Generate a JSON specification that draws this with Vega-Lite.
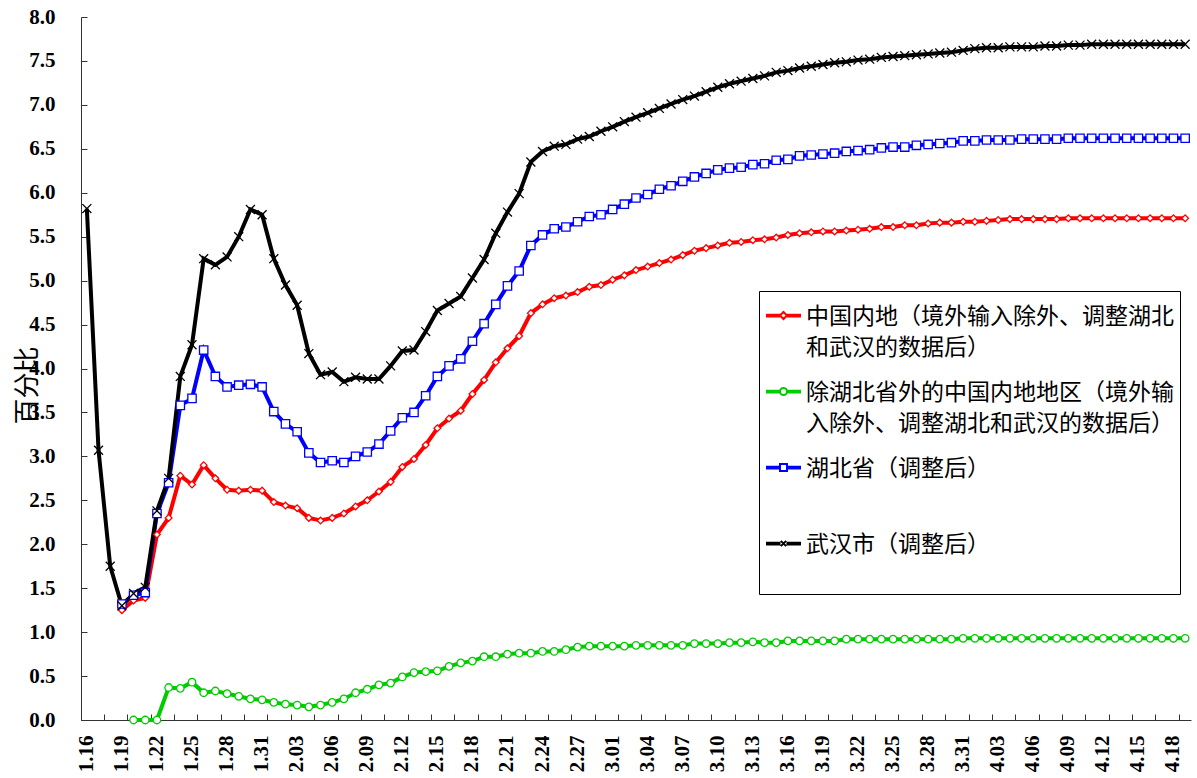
{
"$schema":"https://vega.github.io/schema/vega-lite/v6.json",
"width":1110,"height":703,"autosize":"none",
"padding":{"left":81,"top":17,"right":6,"bottom":58},
"background":"white",
"config":{"view":{"stroke":null},"axis":{"grid":false}},
"data":{"values":[
{"d":"1.19","s":"中国内地","v":1.25},{"d":"1.20","s":"中国内地","v":1.36},{"d":"1.21","s":"中国内地","v":1.39},{"d":"1.22","s":"中国内地","v":2.11},{"d":"1.23","s":"中国内地","v":2.30},{"d":"1.24","s":"中国内地","v":2.78},{"d":"1.25","s":"中国内地","v":2.68},{"d":"1.26","s":"中国内地","v":2.90},{"d":"1.27","s":"中国内地","v":2.75},{"d":"1.28","s":"中国内地","v":2.62},{"d":"1.29","s":"中国内地","v":2.61},{"d":"1.30","s":"中国内地","v":2.62},{"d":"1.31","s":"中国内地","v":2.61},
{"d":"2.01","s":"中国内地","v":2.48},{"d":"2.02","s":"中国内地","v":2.44},{"d":"2.03","s":"中国内地","v":2.41},{"d":"2.04","s":"中国内地","v":2.30},{"d":"2.05","s":"中国内地","v":2.27},{"d":"2.06","s":"中国内地","v":2.30},{"d":"2.07","s":"中国内地","v":2.35},{"d":"2.08","s":"中国内地","v":2.43},{"d":"2.09","s":"中国内地","v":2.50},{"d":"2.10","s":"中国内地","v":2.60},{"d":"2.11","s":"中国内地","v":2.71},{"d":"2.12","s":"中国内地","v":2.88},{"d":"2.13","s":"中国内地","v":2.97},{"d":"2.14","s":"中国内地","v":3.13},{"d":"2.15","s":"中国内地","v":3.32},{"d":"2.16","s":"中国内地","v":3.43},{"d":"2.17","s":"中国内地","v":3.52},{"d":"2.18","s":"中国内地","v":3.71},{"d":"2.19","s":"中国内地","v":3.87},{"d":"2.20","s":"中国内地","v":4.07},{"d":"2.21","s":"中国内地","v":4.23},{"d":"2.22","s":"中国内地","v":4.37},{"d":"2.23","s":"中国内地","v":4.63},{"d":"2.24","s":"中国内地","v":4.73},{"d":"2.25","s":"中国内地","v":4.80},{"d":"2.26","s":"中国内地","v":4.83},{"d":"2.27","s":"中国内地","v":4.87},{"d":"2.28","s":"中国内地","v":4.93},{"d":"2.29","s":"中国内地","v":4.95},
{"d":"3.01","s":"中国内地","v":5.01},{"d":"3.02","s":"中国内地","v":5.06},{"d":"3.03","s":"中国内地","v":5.12},{"d":"3.04","s":"中国内地","v":5.16},{"d":"3.05","s":"中国内地","v":5.20},{"d":"3.06","s":"中国内地","v":5.24},{"d":"3.07","s":"中国内地","v":5.29},{"d":"3.08","s":"中国内地","v":5.34},{"d":"3.09","s":"中国内地","v":5.37},{"d":"3.10","s":"中国内地","v":5.40},{"d":"3.11","s":"中国内地","v":5.43},{"d":"3.12","s":"中国内地","v":5.44},{"d":"3.13","s":"中国内地","v":5.46},{"d":"3.14","s":"中国内地","v":5.47},{"d":"3.15","s":"中国内地","v":5.49},{"d":"3.16","s":"中国内地","v":5.52},{"d":"3.17","s":"中国内地","v":5.54},{"d":"3.18","s":"中国内地","v":5.55},{"d":"3.19","s":"中国内地","v":5.56},{"d":"3.20","s":"中国内地","v":5.56},{"d":"3.21","s":"中国内地","v":5.57},{"d":"3.22","s":"中国内地","v":5.58},{"d":"3.23","s":"中国内地","v":5.59},{"d":"3.24","s":"中国内地","v":5.61},{"d":"3.25","s":"中国内地","v":5.61},{"d":"3.26","s":"中国内地","v":5.63},{"d":"3.27","s":"中国内地","v":5.63},{"d":"3.28","s":"中国内地","v":5.65},{"d":"3.29","s":"中国内地","v":5.66},{"d":"3.30","s":"中国内地","v":5.66},{"d":"3.31","s":"中国内地","v":5.67},
{"d":"4.01","s":"中国内地","v":5.67},{"d":"4.02","s":"中国内地","v":5.68},{"d":"4.03","s":"中国内地","v":5.69},{"d":"4.04","s":"中国内地","v":5.70},{"d":"4.05","s":"中国内地","v":5.70},{"d":"4.06","s":"中国内地","v":5.70},{"d":"4.07","s":"中国内地","v":5.70},{"d":"4.08","s":"中国内地","v":5.70},{"d":"4.09","s":"中国内地","v":5.71},{"d":"4.10","s":"中国内地","v":5.71},{"d":"4.11","s":"中国内地","v":5.71},{"d":"4.12","s":"中国内地","v":5.71},{"d":"4.13","s":"中国内地","v":5.71},{"d":"4.14","s":"中国内地","v":5.71},{"d":"4.15","s":"中国内地","v":5.71},{"d":"4.16","s":"中国内地","v":5.71},{"d":"4.17","s":"中国内地","v":5.71},{"d":"4.18","s":"中国内地","v":5.71},{"d":"4.19","s":"中国内地","v":5.71},
{"d":"1.20","s":"除湖北省外","v":0},{"d":"1.21","s":"除湖北省外","v":0},{"d":"1.22","s":"除湖北省外","v":0},{"d":"1.23","s":"除湖北省外","v":0.37},{"d":"1.24","s":"除湖北省外","v":0.36},{"d":"1.25","s":"除湖北省外","v":0.43},{"d":"1.26","s":"除湖北省外","v":0.31},{"d":"1.27","s":"除湖北省外","v":0.33},{"d":"1.28","s":"除湖北省外","v":0.30},{"d":"1.29","s":"除湖北省外","v":0.27},{"d":"1.30","s":"除湖北省外","v":0.24},{"d":"1.31","s":"除湖北省外","v":0.23},
{"d":"2.01","s":"除湖北省外","v":0.20},{"d":"2.02","s":"除湖北省外","v":0.18},{"d":"2.03","s":"除湖北省外","v":0.17},{"d":"2.04","s":"除湖北省外","v":0.15},{"d":"2.05","s":"除湖北省外","v":0.17},{"d":"2.06","s":"除湖北省外","v":0.20},{"d":"2.07","s":"除湖北省外","v":0.24},{"d":"2.08","s":"除湖北省外","v":0.31},{"d":"2.09","s":"除湖北省外","v":0.35},{"d":"2.10","s":"除湖北省外","v":0.40},{"d":"2.11","s":"除湖北省外","v":0.42},{"d":"2.12","s":"除湖北省外","v":0.49},{"d":"2.13","s":"除湖北省外","v":0.54},{"d":"2.14","s":"除湖北省外","v":0.55},{"d":"2.15","s":"除湖北省外","v":0.56},{"d":"2.16","s":"除湖北省外","v":0.61},{"d":"2.17","s":"除湖北省外","v":0.65},{"d":"2.18","s":"除湖北省外","v":0.67},{"d":"2.19","s":"除湖北省外","v":0.72},{"d":"2.20","s":"除湖北省外","v":0.72},{"d":"2.21","s":"除湖北省外","v":0.75},{"d":"2.22","s":"除湖北省外","v":0.76},{"d":"2.23","s":"除湖北省外","v":0.76},{"d":"2.24","s":"除湖北省外","v":0.78},{"d":"2.25","s":"除湖北省外","v":0.78},{"d":"2.26","s":"除湖北省外","v":0.80},{"d":"2.27","s":"除湖北省外","v":0.83},{"d":"2.28","s":"除湖北省外","v":0.84},{"d":"2.29","s":"除湖北省外","v":0.84},
{"d":"3.01","s":"除湖北省外","v":0.84},{"d":"3.02","s":"除湖北省外","v":0.84},{"d":"3.03","s":"除湖北省外","v":0.85},{"d":"3.04","s":"除湖北省外","v":0.85},{"d":"3.05","s":"除湖北省外","v":0.85},{"d":"3.06","s":"除湖北省外","v":0.85},{"d":"3.07","s":"除湖北省外","v":0.85},{"d":"3.08","s":"除湖北省外","v":0.87},{"d":"3.09","s":"除湖北省外","v":0.87},{"d":"3.10","s":"除湖北省外","v":0.87},{"d":"3.11","s":"除湖北省外","v":0.88},{"d":"3.12","s":"除湖北省外","v":0.88},{"d":"3.13","s":"除湖北省外","v":0.89},{"d":"3.14","s":"除湖北省外","v":0.88},{"d":"3.15","s":"除湖北省外","v":0.88},{"d":"3.16","s":"除湖北省外","v":0.90},{"d":"3.17","s":"除湖北省外","v":0.90},{"d":"3.18","s":"除湖北省外","v":0.90},{"d":"3.19","s":"除湖北省外","v":0.90},{"d":"3.20","s":"除湖北省外","v":0.90},{"d":"3.21","s":"除湖北省外","v":0.92},{"d":"3.22","s":"除湖北省外","v":0.92},{"d":"3.23","s":"除湖北省外","v":0.92},{"d":"3.24","s":"除湖北省外","v":0.92},{"d":"3.25","s":"除湖北省外","v":0.92},{"d":"3.26","s":"除湖北省外","v":0.92},{"d":"3.27","s":"除湖北省外","v":0.92},{"d":"3.28","s":"除湖北省外","v":0.92},{"d":"3.29","s":"除湖北省外","v":0.92},{"d":"3.30","s":"除湖北省外","v":0.92},{"d":"3.31","s":"除湖北省外","v":0.93},
{"d":"4.01","s":"除湖北省外","v":0.93},{"d":"4.02","s":"除湖北省外","v":0.93},{"d":"4.03","s":"除湖北省外","v":0.93},{"d":"4.04","s":"除湖北省外","v":0.93},{"d":"4.05","s":"除湖北省外","v":0.93},{"d":"4.06","s":"除湖北省外","v":0.93},{"d":"4.07","s":"除湖北省外","v":0.93},{"d":"4.08","s":"除湖北省外","v":0.93},{"d":"4.09","s":"除湖北省外","v":0.93},{"d":"4.10","s":"除湖北省外","v":0.93},{"d":"4.11","s":"除湖北省外","v":0.93},{"d":"4.12","s":"除湖北省外","v":0.93},{"d":"4.13","s":"除湖北省外","v":0.93},{"d":"4.14","s":"除湖北省外","v":0.93},{"d":"4.15","s":"除湖北省外","v":0.93},{"d":"4.16","s":"除湖北省外","v":0.93},{"d":"4.17","s":"除湖北省外","v":0.93},{"d":"4.18","s":"除湖北省外","v":0.93},{"d":"4.19","s":"除湖北省外","v":0.93},
{"d":"1.19","s":"湖北省","v":1.32},{"d":"1.20","s":"湖北省","v":1.42},{"d":"1.21","s":"湖北省","v":1.45},{"d":"1.22","s":"湖北省","v":2.35},{"d":"1.23","s":"湖北省","v":2.70},{"d":"1.24","s":"湖北省","v":3.58},{"d":"1.25","s":"湖北省","v":3.66},{"d":"1.26","s":"湖北省","v":4.21},{"d":"1.27","s":"湖北省","v":3.91},{"d":"1.28","s":"湖北省","v":3.79},{"d":"1.29","s":"湖北省","v":3.81},{"d":"1.30","s":"湖北省","v":3.82},{"d":"1.31","s":"湖北省","v":3.79},
{"d":"2.01","s":"湖北省","v":3.51},{"d":"2.02","s":"湖北省","v":3.37},{"d":"2.03","s":"湖北省","v":3.28},{"d":"2.04","s":"湖北省","v":3.04},{"d":"2.05","s":"湖北省","v":2.93},{"d":"2.06","s":"湖北省","v":2.95},{"d":"2.07","s":"湖北省","v":2.93},{"d":"2.08","s":"湖北省","v":3.00},{"d":"2.09","s":"湖北省","v":3.05},{"d":"2.10","s":"湖北省","v":3.14},{"d":"2.11","s":"湖北省","v":3.29},{"d":"2.12","s":"湖北省","v":3.44},{"d":"2.13","s":"湖北省","v":3.50},{"d":"2.14","s":"湖北省","v":3.69},{"d":"2.15","s":"湖北省","v":3.91},{"d":"2.16","s":"湖北省","v":4.03},{"d":"2.17","s":"湖北省","v":4.11},{"d":"2.18","s":"湖北省","v":4.31},{"d":"2.19","s":"湖北省","v":4.51},{"d":"2.20","s":"湖北省","v":4.73},{"d":"2.21","s":"湖北省","v":4.94},{"d":"2.22","s":"湖北省","v":5.11},{"d":"2.23","s":"湖北省","v":5.40},{"d":"2.24","s":"湖北省","v":5.52},{"d":"2.25","s":"湖北省","v":5.59},{"d":"2.26","s":"湖北省","v":5.61},{"d":"2.27","s":"湖北省","v":5.67},{"d":"2.28","s":"湖北省","v":5.73},{"d":"2.29","s":"湖北省","v":5.75},
{"d":"3.01","s":"湖北省","v":5.81},{"d":"3.02","s":"湖北省","v":5.87},{"d":"3.03","s":"湖北省","v":5.94},{"d":"3.04","s":"湖北省","v":5.98},{"d":"3.05","s":"湖北省","v":6.04},{"d":"3.06","s":"湖北省","v":6.08},{"d":"3.07","s":"湖北省","v":6.13},{"d":"3.08","s":"湖北省","v":6.18},{"d":"3.09","s":"湖北省","v":6.22},{"d":"3.10","s":"湖北省","v":6.26},{"d":"3.11","s":"湖北省","v":6.28},{"d":"3.12","s":"湖北省","v":6.29},{"d":"3.13","s":"湖北省","v":6.32},{"d":"3.14","s":"湖北省","v":6.33},{"d":"3.15","s":"湖北省","v":6.37},{"d":"3.16","s":"湖北省","v":6.38},{"d":"3.17","s":"湖北省","v":6.42},{"d":"3.18","s":"湖北省","v":6.43},{"d":"3.19","s":"湖北省","v":6.44},{"d":"3.20","s":"湖北省","v":6.45},{"d":"3.21","s":"湖北省","v":6.47},{"d":"3.22","s":"湖北省","v":6.48},{"d":"3.23","s":"湖北省","v":6.49},{"d":"3.24","s":"湖北省","v":6.51},{"d":"3.25","s":"湖北省","v":6.52},{"d":"3.26","s":"湖北省","v":6.52},{"d":"3.27","s":"湖北省","v":6.54},{"d":"3.28","s":"湖北省","v":6.55},{"d":"3.29","s":"湖北省","v":6.56},{"d":"3.30","s":"湖北省","v":6.57},{"d":"3.31","s":"湖北省","v":6.59},
{"d":"4.01","s":"湖北省","v":6.59},{"d":"4.02","s":"湖北省","v":6.60},{"d":"4.03","s":"湖北省","v":6.60},{"d":"4.04","s":"湖北省","v":6.60},{"d":"4.05","s":"湖北省","v":6.61},{"d":"4.06","s":"湖北省","v":6.61},{"d":"4.07","s":"湖北省","v":6.61},{"d":"4.08","s":"湖北省","v":6.61},{"d":"4.09","s":"湖北省","v":6.62},{"d":"4.10","s":"湖北省","v":6.62},{"d":"4.11","s":"湖北省","v":6.62},{"d":"4.12","s":"湖北省","v":6.62},{"d":"4.13","s":"湖北省","v":6.62},{"d":"4.14","s":"湖北省","v":6.62},{"d":"4.15","s":"湖北省","v":6.62},{"d":"4.16","s":"湖北省","v":6.62},{"d":"4.17","s":"湖北省","v":6.62},{"d":"4.18","s":"湖北省","v":6.62},{"d":"4.19","s":"湖北省","v":6.62},
{"d":"1.16","s":"武汉市","v":5.82},{"d":"1.17","s":"武汉市","v":3.07},{"d":"1.18","s":"武汉市","v":1.75},{"d":"1.19","s":"武汉市","v":1.30},{"d":"1.20","s":"武汉市","v":1.44},{"d":"1.21","s":"武汉市","v":1.51},{"d":"1.22","s":"武汉市","v":2.38},{"d":"1.23","s":"武汉市","v":2.75},{"d":"1.24","s":"武汉市","v":3.91},{"d":"1.25","s":"武汉市","v":4.27},{"d":"1.26","s":"武汉市","v":5.25},{"d":"1.27","s":"武汉市","v":5.18},{"d":"1.28","s":"武汉市","v":5.27},{"d":"1.29","s":"武汉市","v":5.50},{"d":"1.30","s":"武汉市","v":5.81},{"d":"1.31","s":"武汉市","v":5.75},
{"d":"2.01","s":"武汉市","v":5.25},{"d":"2.02","s":"武汉市","v":4.95},{"d":"2.03","s":"武汉市","v":4.72},{"d":"2.04","s":"武汉市","v":4.17},{"d":"2.05","s":"武汉市","v":3.93},{"d":"2.06","s":"武汉市","v":3.96},{"d":"2.07","s":"武汉市","v":3.85},{"d":"2.08","s":"武汉市","v":3.90},{"d":"2.09","s":"武汉市","v":3.88},{"d":"2.10","s":"武汉市","v":3.88},{"d":"2.11","s":"武汉市","v":4.03},{"d":"2.12","s":"武汉市","v":4.20},{"d":"2.13","s":"武汉市","v":4.21},{"d":"2.14","s":"武汉市","v":4.42},{"d":"2.15","s":"武汉市","v":4.66},{"d":"2.16","s":"武汉市","v":4.74},{"d":"2.17","s":"武汉市","v":4.82},{"d":"2.18","s":"武汉市","v":5.03},{"d":"2.19","s":"武汉市","v":5.24},{"d":"2.20","s":"武汉市","v":5.54},{"d":"2.21","s":"武汉市","v":5.78},{"d":"2.22","s":"武汉市","v":5.99},{"d":"2.23","s":"武汉市","v":6.35},{"d":"2.24","s":"武汉市","v":6.47},{"d":"2.25","s":"武汉市","v":6.53},{"d":"2.26","s":"武汉市","v":6.55},{"d":"2.27","s":"武汉市","v":6.61},{"d":"2.28","s":"武汉市","v":6.64},{"d":"2.29","s":"武汉市","v":6.70},
{"d":"3.01","s":"武汉市","v":6.75},{"d":"3.02","s":"武汉市","v":6.81},{"d":"3.03","s":"武汉市","v":6.86},{"d":"3.04","s":"武汉市","v":6.91},{"d":"3.05","s":"武汉市","v":6.96},{"d":"3.06","s":"武汉市","v":7.01},{"d":"3.07","s":"武汉市","v":7.06},{"d":"3.08","s":"武汉市","v":7.10},{"d":"3.09","s":"武汉市","v":7.15},{"d":"3.10","s":"武汉市","v":7.20},{"d":"3.11","s":"武汉市","v":7.24},{"d":"3.12","s":"武汉市","v":7.27},{"d":"3.13","s":"武汉市","v":7.30},{"d":"3.14","s":"武汉市","v":7.33},{"d":"3.15","s":"武汉市","v":7.37},{"d":"3.16","s":"武汉市","v":7.39},{"d":"3.17","s":"武汉市","v":7.42},{"d":"3.18","s":"武汉市","v":7.44},{"d":"3.19","s":"武汉市","v":7.46},{"d":"3.20","s":"武汉市","v":7.48},{"d":"3.21","s":"武汉市","v":7.49},{"d":"3.22","s":"武汉市","v":7.51},{"d":"3.23","s":"武汉市","v":7.52},{"d":"3.24","s":"武汉市","v":7.54},{"d":"3.25","s":"武汉市","v":7.55},{"d":"3.26","s":"武汉市","v":7.56},{"d":"3.27","s":"武汉市","v":7.57},{"d":"3.28","s":"武汉市","v":7.58},{"d":"3.29","s":"武汉市","v":7.59},{"d":"3.30","s":"武汉市","v":7.60},{"d":"3.31","s":"武汉市","v":7.62},
{"d":"4.01","s":"武汉市","v":7.64},{"d":"4.02","s":"武汉市","v":7.65},{"d":"4.03","s":"武汉市","v":7.65},{"d":"4.04","s":"武汉市","v":7.66},{"d":"4.05","s":"武汉市","v":7.66},{"d":"4.06","s":"武汉市","v":7.66},{"d":"4.07","s":"武汉市","v":7.67},{"d":"4.08","s":"武汉市","v":7.67},{"d":"4.09","s":"武汉市","v":7.68},{"d":"4.10","s":"武汉市","v":7.68},{"d":"4.11","s":"武汉市","v":7.69},{"d":"4.12","s":"武汉市","v":7.69},{"d":"4.13","s":"武汉市","v":7.69},{"d":"4.14","s":"武汉市","v":7.69},{"d":"4.15","s":"武汉市","v":7.69},{"d":"4.16","s":"武汉市","v":7.69},{"d":"4.17","s":"武汉市","v":7.69},{"d":"4.18","s":"武汉市","v":7.69},{"d":"4.19","s":"武汉市","v":7.69}
]},
"encoding":{
"y":{"field":"v","type":"quantitative","scale":{"domain":[0,8],"nice":false},
"axis":{"values":[0,0.5,1,1.5,2,2.5,3,3.5,4,4.5,5,5.5,6,6.5,7,7.5,8],"format":".1f","labelFont":"Liberation Serif","labelFontSize":21,"labelFontWeight":"bold","labelColor":"black","tickSize":-6,"tickColor":"#333333","domainColor":"#333333","labelPadding":32,
"title":"百分比","titleFont":"Noto Sans CJK SC","titleFontSize":26,"titleFontWeight":"normal","titleColor":"black","titleX":-54,"titleY":368,"titleAngle":-90,"titleAlign":"center","titleBaseline":"middle"}}
},
"layer":[
{"mark":{"type":"line","strokeWidth":4},
"encoding":{
"x":{"field":"d","type":"ordinal","scale":{"type":"band","paddingInner":0,"paddingOuter":0},
"axis":{"orient":"bottom","values":["1.16","1.18","1.20","1.22","1.24","1.26","1.28","1.30","2.01","2.03","2.05","2.07","2.09","2.11","2.13","2.15","2.17","2.19","2.21","2.23","2.25","2.27","2.29","3.02","3.04","3.06","3.08","3.10","3.12","3.14","3.16","3.18","3.20","3.22","3.24","3.26","3.28","3.30","4.01","4.03","4.05","4.07","4.09","4.11","4.13","4.15","4.17","4.19"],"bandPosition":0,"labels":false,"tickSize":-6,"tickColor":"#333333","domainColor":"#333333","title":null}},
"color":{"field":"s","type":"nominal","scale":{"domain":["中国内地","除湖北省外","湖北省","武汉市"],"range":["#FF0000","#00CC00","#0000FF","#000000"]},
"legend":{"title":null,"orient":"none","legendX":678,"legendY":274,"direction":"vertical","fillColor":"white","strokeColor":"black","padding":6,"cornerRadius":0,
"labelFont":"Noto Sans CJK SC","labelFontSize":23,"labelColor":"black","labelLimit":430,"labelOffset":4,"labelBaseline":"top","symbolSize":1225,"symbolStrokeWidth":2,"rowPadding":13,
"labelExpr":"datum.value === '中国内地' ? ['中国内地（境外输入除外、调整湖北', '和武汉的数据后）'] : datum.value === '除湖北省外' ? ['除湖北省外的中国内地地区（境外输', '入除外、调整湖北和武汉的数据后）'] : datum.value === '湖北省' ? ['湖北省（调整后）', ' '] : ['武汉市（调整后）', ' ']",
"encode":{"symbols":{"update":{"shape":{"signal":"datum.value === '中国内地' ? 'M-1,-0.05H-0.2M-1,0.05H-0.2M0.2,-0.05H1M0.2,0.05H1M0,-0.2L0.2,0L0,0.2L-0.2,0Z' : datum.value === '除湖北省外' ? 'M-1,-0.05H-0.2M-1,0.05H-0.2M0.2,-0.05H1M0.2,0.05H1M0.2,0A0.2,0.2,0,1,1,-0.2,0A0.2,0.2,0,1,1,0.2,0Z' : datum.value === '湖北省' ? 'M-1,-0.05H-0.2M-1,0.05H-0.2M0.2,-0.05H1M0.2,0.05H1M-0.2,-0.2H0.2V0.2H-0.2Z' : 'M-1,-0.05H-0.17M-1,0.05H-0.17M0.17,-0.05H1M0.17,0.05H1M-0.15,-0.15L0.15,0.15M-0.15,0.15L0.15,-0.15'"},"fill":{"value":"white"}}},
"labels":{"update":{"dy":{"value":-10},"lineHeight":{"value":31}}}}}}
}},
{"transform":[{"filter":"datum.s === '中国内地'"}],
"mark":{"type":"point","shape":"diamond","filled":true,"fill":"white","stroke":"#FF0000","strokeWidth":1.3,"size":45,"opacity":1},
"encoding":{"x":{"field":"d","type":"ordinal","scale":{"type":"band","paddingInner":0,"paddingOuter":0},
"axis":{"orient":"bottom","values":["1.16","1.19","1.22","1.25","1.28","1.31","2.03","2.06","2.09","2.12","2.15","2.18","2.21","2.24","2.27","3.01","3.04","3.07","3.10","3.13","3.16","3.19","3.22","3.25","3.28","3.31","4.03","4.06","4.09","4.12","4.15","4.18"],"ticks":false,"domain":false,"labelAngle":-90,"labelPadding":15,"labelFont":"Liberation Serif","labelFontSize":21,"labelFontWeight":"bold","labelColor":"black","labelOverlap":false,"title":null}}}},
{"transform":[{"filter":"datum.s === '除湖北省外'"}],
"mark":{"type":"point","shape":"circle","filled":true,"fill":"white","stroke":"#00CC00","strokeWidth":1.3,"size":56,"opacity":1},
"encoding":{"x":{"field":"d","type":"ordinal","scale":{"type":"band","paddingInner":0,"paddingOuter":0},"axis":null}}},
{"transform":[{"filter":"datum.s === '湖北省'"}],
"mark":{"type":"point","shape":"square","filled":true,"fill":"white","stroke":"#0000FF","strokeWidth":1.3,"size":70,"opacity":1},
"encoding":{"x":{"field":"d","type":"ordinal","scale":{"type":"band","paddingInner":0,"paddingOuter":0},"axis":null}}},
{"transform":[{"filter":"datum.s === '武汉市'"}],
"mark":{"type":"point","shape":"M-1,-1L1,1M-1,1L1,-1","filled":false,"stroke":"#000000","strokeWidth":1.3,"size":80,"opacity":1},
"encoding":{"x":{"field":"d","type":"ordinal","scale":{"type":"band","paddingInner":0,"paddingOuter":0},"axis":null}}}
],
"resolve":{"axis":{"x":"independent"}}
}
